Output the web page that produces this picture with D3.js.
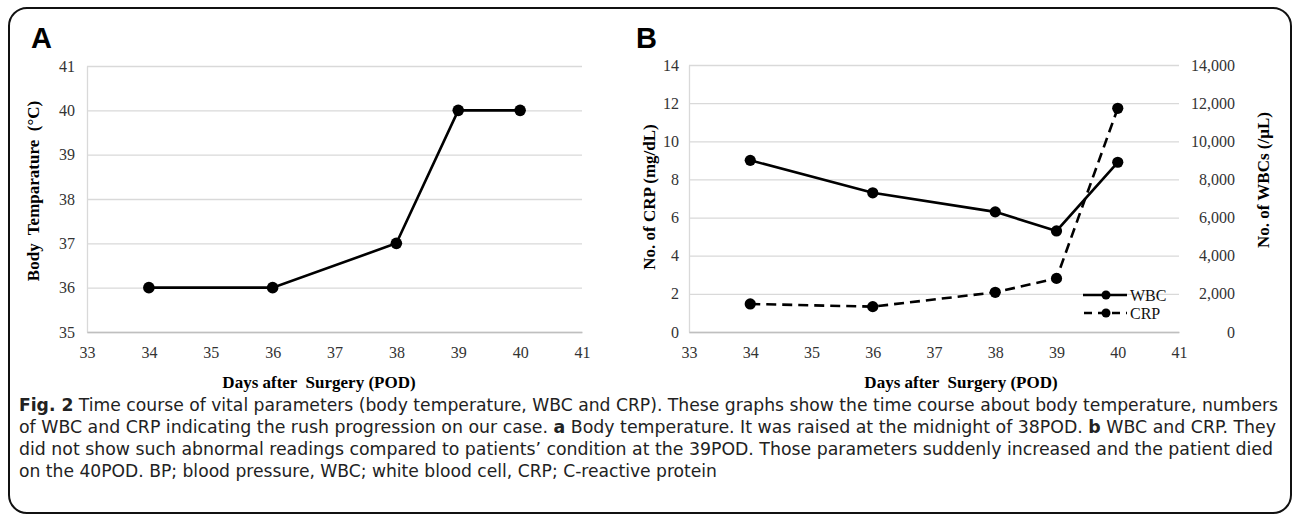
<!DOCTYPE html>
<html><head><meta charset="utf-8">
<script src="https://cdn.jsdelivr.net/npm/d3@7"></script>
<style>
html,body{margin:0;padding:0;background:#fff;}
svg{display:block;}
</style></head>
<body>
<svg id="c" width="1293" height="519"></svg>
<script>
// ---------- data ----------
const days = [34, 36, 38, 39, 40];
const bodyTemp = [36, 36, 37, 40, 40];
const crp = [1.47, 1.33, 2.08, 2.81, 11.73];
const wbc = [9000, 7300, 6300, 5300, 8900];
const xTicks = [33, 34, 35, 36, 37, 38, 39, 40, 41];
const tempTicks = [35, 36, 37, 38, 39, 40, 41];
const crpTicks = [0, 2, 4, 6, 8, 10, 12, 14];
const wbcTicks = [0, 2000, 4000, 6000, 8000, 10000, 12000, 14000];
const captionLines = [
  [["Fig. 2", true], [" Time course of vital parameters (body temperature, WBC and CRP). These graphs show the time course about body temperature, numbers", false]],
  [["of WBC and CRP indicating the rush progression on our case. ", false], ["a", true], [" Body temperature. It was raised at the midnight of 38POD. ", false], ["b", true], [" WBC and CRP. They", false]],
  [["did not show such abnormal readings compared to patients\u2019 condition at the 39POD. Those parameters suddenly increased and the patient died", false]],
  [["on the 40POD. BP; blood pressure, WBC; white blood cell, CRP; C-reactive protein", false]]
];

const svg = d3.select("#c");
const serif = '"Liberation Serif","Times New Roman",serif';

// outer frame
svg.append("rect").attr("x", 9).attr("y", 8).attr("width", 1282).attr("height", 505)
  .attr("rx", 18).attr("ry", 18).attr("fill", "#fff").attr("stroke", "#111").attr("stroke-width", 2);

// panel letters
svg.append("text").attr("x", 31).attr("y", 48).text("A")
  .attr("font-family", '"Liberation Sans",Arial,sans-serif').attr("font-weight", "bold").attr("font-size", 29);
svg.append("text").attr("x", 636).attr("y", 48).text("B")
  .attr("font-family", '"Liberation Sans",Arial,sans-serif').attr("font-weight", "bold").attr("font-size", 29);

function styleAxis(g) {
  g.attr("font-family", serif).attr("font-size", 16);
  g.selectAll(".tick text").attr("fill", "#333");
  g.selectAll(".tick line").attr("stroke", "#d9d9d9").attr("stroke-width", 1.3);
}

// ---------- Panel A ----------
const xA = d3.scaleLinear().domain([33, 41]).range([87, 582]);
const yA = d3.scaleLinear().domain([35, 41]).range([332, 66]);

const gA = svg.append("g");
const yAxA = gA.append("g").attr("transform", `translate(${xA(33)},0)`)
  .call(d3.axisLeft(yA).tickValues(tempTicks).tickSizeInner(-(xA(41) - xA(33))).tickSizeOuter(0).tickPadding(12).tickFormat(d3.format("d")));
styleAxis(yAxA);
yAxA.select(".domain").attr("stroke", "#d9d9d9").attr("stroke-width", 1.3);
const xAxA = gA.append("g").attr("transform", `translate(0,${yA(35)})`)
  .call(d3.axisBottom(xA).tickValues(xTicks).tickSize(0).tickPadding(15).tickFormat(d3.format("d")));
styleAxis(xAxA);
xAxA.select(".domain").attr("stroke", "#bfbfbf").attr("stroke-width", 1.5);

const ptsA = days.map((d, i) => [d, bodyTemp[i]]);
gA.append("path").datum(ptsA)
  .attr("d", d3.line().x(d => xA(d[0])).y(d => yA(d[1])))
  .attr("fill", "none").attr("stroke", "#000").attr("stroke-width", 2.6);
gA.selectAll("circle.a").data(ptsA).join("circle")
  .attr("cx", d => xA(d[0])).attr("cy", d => yA(d[1])).attr("r", 5.8).attr("fill", "#000");

gA.append("text").attr("x", 319).attr("y", 388).attr("text-anchor", "middle")
  .attr("font-family", serif).attr("font-weight", "bold").attr("font-size", 17)
  .attr("xml:space", "preserve").text("Days after  Surgery (POD)");
gA.append("text").attr("transform", "translate(39,191) rotate(-90)").attr("text-anchor", "middle")
  .attr("font-family", serif).attr("font-weight", "bold").attr("font-size", 17)
  .attr("xml:space", "preserve").text("Body  Temparature  (\u00B0C)");

// ---------- Panel B ----------
const xB = d3.scaleLinear().domain([33, 41]).range([689, 1179]);
const yBL = d3.scaleLinear().domain([0, 14]).range([332, 65]);
const yBR = d3.scaleLinear().domain([0, 14000]).range([332, 65]);

const gB = svg.append("g");
const yAxB = gB.append("g").attr("transform", `translate(${xB(33)},0)`)
  .call(d3.axisLeft(yBL).tickValues(crpTicks).tickSizeInner(-(xB(41) - xB(33))).tickSizeOuter(0).tickPadding(10).tickFormat(d3.format("d")));
styleAxis(yAxB);
yAxB.select(".domain").attr("stroke", "#d9d9d9").attr("stroke-width", 1.3);
const yAxBR = gB.append("g").attr("transform", `translate(${xB(41)},0)`)
  .call(d3.axisRight(yBR).tickValues(wbcTicks).tickSize(0).tickPadding(56).tickFormat(d3.format(",")));
styleAxis(yAxBR);
yAxBR.select(".domain").remove();
yAxBR.selectAll("text").attr("text-anchor", "end");
const xAxB = gB.append("g").attr("transform", `translate(0,${yBL(0)})`)
  .call(d3.axisBottom(xB).tickValues(xTicks).tickSize(0).tickPadding(15).tickFormat(d3.format("d")));
styleAxis(xAxB);
xAxB.select(".domain").attr("stroke", "#bfbfbf").attr("stroke-width", 1.5);

const ptsCRP = days.map((d, i) => [d, crp[i]]);
const ptsWBC = days.map((d, i) => [d, wbc[i]]);
gB.append("path").datum(ptsCRP)
  .attr("d", d3.line().x(d => xB(d[0])).y(d => yBL(d[1])))
  .attr("fill", "none").attr("stroke", "#000").attr("stroke-width", 2.6).attr("stroke-dasharray", "10,6");
gB.selectAll("circle.crp").data(ptsCRP).join("circle").attr("class", "crp")
  .attr("cx", d => xB(d[0])).attr("cy", d => yBL(d[1])).attr("r", 5.6).attr("fill", "#000");
gB.append("path").datum(ptsWBC)
  .attr("d", d3.line().x(d => xB(d[0])).y(d => yBR(d[1])))
  .attr("fill", "none").attr("stroke", "#000").attr("stroke-width", 2.6);
gB.selectAll("circle.wbc").data(ptsWBC).join("circle").attr("class", "wbc")
  .attr("cx", d => xB(d[0])).attr("cy", d => yBR(d[1])).attr("r", 5.6).attr("fill", "#000");

// legend
const legend = [["WBC", null, 295], ["CRP", "8,6", 313]];
legend.forEach(([name, dash, ly]) => {
  const l = gB.append("line").attr("x1", 1083).attr("x2", 1127).attr("y1", ly).attr("y2", ly)
    .attr("stroke", "#000").attr("stroke-width", 2.4);
  if (dash) l.attr("stroke-dasharray", dash).attr("stroke-dashoffset", -1);
  gB.append("circle").attr("cx", 1106).attr("cy", ly).attr("r", 4.5).attr("fill", "#000");
  gB.append("text").attr("x", 1130).attr("y", ly + 6).text(name)
    .attr("font-family", serif).attr("font-size", 16).attr("fill", "#111");
});

gB.append("text").attr("x", 961).attr("y", 388).attr("text-anchor", "middle")
  .attr("font-family", serif).attr("font-weight", "bold").attr("font-size", 17)
  .attr("xml:space", "preserve").text("Days after  Surgery (POD)");
gB.append("text").attr("transform", "translate(655,197) rotate(-90)").attr("text-anchor", "middle")
  .attr("font-family", serif).attr("font-weight", "bold").attr("font-size", 17)
  .text("No. of CRP (mg/dL)");
gB.append("text").attr("transform", "translate(1269,180) rotate(-90)").attr("text-anchor", "middle")
  .attr("font-family", serif).attr("font-weight", "bold").attr("font-size", 17)
  .text("No. of WBCs (/\u00B5L)");

// ---------- caption ----------
const capY = [411, 433, 455, 477];
const capLen = [1259, 1257, 1254, 698];
captionLines.forEach((parts, i) => {
  const t = svg.append("text").attr("x", 19).attr("y", capY[i])
    .attr("font-family", '"DejaVu Sans Condensed","DejaVu Sans",sans-serif')
    .attr("font-stretch", "condensed")
    .attr("font-size", 17.5).attr("fill", "#222")
    .attr("textLength", capLen[i]).attr("lengthAdjust", "spacingAndGlyphs")
    .attr("xml:space", "preserve");
  parts.forEach(([s, b]) => t.append("tspan").text(s).attr("font-weight", b ? "bold" : "normal"));
});
</script>
</body></html>
